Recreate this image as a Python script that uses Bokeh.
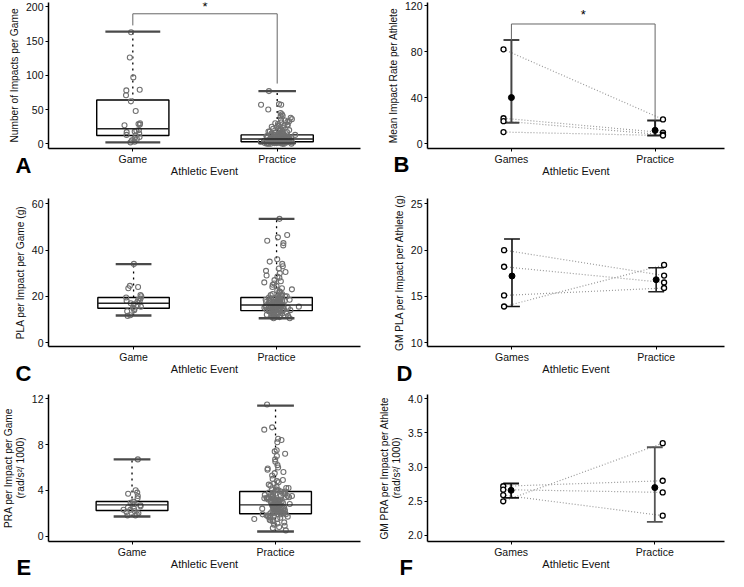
from bokeh.plotting import figure
from bokeh.models import Range1d, FixedTicker, ColumnDataSource, Label, Title, NumeralTickFormatter
from bokeh.transform import jitter, dodge
from bokeh.layouts import gridplot
from bokeh.embed import file_html
from bokeh.resources import INLINE

# ---------------- data ----------------
box_groups = ["Game", "Practice"]
pair_groups = ["Games", "Practice"]
group_pos = [1, 2]
sig_x = [1, 1, 2, 2]

# Panel A: number of impacts per game
a_game = [163, 126, 97, 79, 78, 71, 62, 48, 30, 29, 28, 27, 20, 19, 18, 17, 15, 13,
          12, 10, 8, 7, 5, 3, 2]
a_practice = [77, 58, 57, 57, 50, 45, 43, 41, 40, 38, 36, 35, 34, 33, 32, 31, 30, 29,
              28, 27, 27, 26, 25, 24, 23, 22, 21, 20, 20, 19, 18, 18, 17, 17, 16, 16,
              15, 15, 15, 14, 14, 14, 13, 13, 13, 13, 12, 12, 12, 12, 12, 11, 11, 11,
              11, 11, 10, 10, 10, 10, 10, 10, 9, 9, 9, 9, 9, 9, 8, 8, 8, 8, 8, 8, 8,
              7, 7, 7, 7, 7, 7, 7, 6, 6, 6, 6, 6, 6, 6, 6, 5, 5, 5, 5, 5, 5, 5, 5,
              4, 4, 4, 4, 4, 4, 4, 4, 3, 3, 3, 3, 3, 3, 3, 3, 2, 2, 2, 2, 2, 2, 2, 2,
              1, 1, 1, 1, 1, 1, 1, 0, 0, 0, 0, 0, 0]
a_q1 = [12, 3]
a_med = [22, 7]
a_q3 = [64, 13]
a_lo = [2, 1]
a_hi = [164, 77]
a_cap = [0.19, 0.13]
a_sig_y = [173, 190, 190, 88]
a_star_y = 200

# Panel B: mean impact rate per athlete
b_games = [82, 22, 19.5, 10]
b_practice = [21, 9.5, 7.7, 7]
b_mean = [40, 11.5]
b_lo = [18, 7]
b_hi = [90, 20]
b_sig_y = [90, 104, 104, 20]
b_star_y = 112

# Panel C: PLA per impact per game
c_game = [34, 24.5, 24, 23.5, 20.5, 20, 19.5, 19, 18.5, 18, 18, 17.5, 17, 16.5, 16,
          15.5, 15, 14.5, 14, 13.5, 11.8, 11.5]
c_practice = [53.5, 46.5, 45.5, 44, 43, 42, 36, 35, 34, 33, 32, 31, 30.5, 30, 29, 28.5,
              28, 27, 26.5, 26, 25.5, 25, 24.5, 24, 23.5, 23, 22.5, 22, 22, 21.5, 21, 21,
              20.5, 20.5, 20, 20, 20, 19.5, 19.5, 19.5, 19, 19, 19, 19, 18.5, 18.5, 18.5,
              18.5, 18, 18, 18, 18, 18, 17.5, 17.5, 17.5, 17.5, 17.5, 17, 17, 17, 17, 17,
              17, 16.5, 16.5, 16.5, 16.5, 16.5, 16.5, 16, 16, 16, 16, 16, 16, 16, 15.5,
              15.5, 15.5, 15.5, 15.5, 15.5, 15, 15, 15, 15, 15, 15, 15, 14.5, 14.5, 14.5,
              14.5, 14.5, 14.5, 14, 14, 14, 14, 14, 14, 13.5, 13.5, 13.5, 13.5, 13.5, 13,
              13, 13, 13, 13, 12.5, 12.5, 12.5, 12.5, 12, 12, 12, 12, 11.5, 11.5, 11.5,
              11, 11, 11, 10.5, 10.5]
c_q1 = [14.8, 13.8]
c_med = [17, 16.2]
c_q3 = [19.5, 19.5]
c_lo = [11.7, 10.5]
c_hi = [33.9, 53.5]
c_cap = [0.125, 0.125]

# Panel D: GM PLA per impact per athlete
d_games = [20.0, 18.2, 15.1, 13.9]
d_practice = [17.25, 16.5, 15.9, 18.4]
d_mean = [17.2, 16.8]
d_lo = [13.9, 15.5]
d_hi = [21.2, 18.1]

# Panel E: PRA per impact per game
e_game = [6.7, 4.0, 3.8, 3.7, 3.5, 3.3, 3.0, 2.9, 2.8, 2.8, 2.7, 2.6, 2.5, 2.4, 2.3,
          2.3, 2.2, 2.1, 2.0, 1.9, 1.8, 1.8]
e_practice = [11.5, 9.5, 9.3, 8.5, 8.4, 8.2, 7.5, 7.4, 7.2, 7.0, 6.7, 6.5, 6.2, 6.0, 5.9,
              5.8, 5.6, 5.5, 5.3, 5.0, 4.9, 4.8, 4.7, 4.6, 4.5, 4.4, 4.3, 4.2, 4.2, 4.1,
              4.1, 4.0, 4.0, 3.9, 3.9, 3.8, 3.8, 3.8, 3.7, 3.7, 3.7, 3.6, 3.6, 3.6, 3.5,
              3.5, 3.5, 3.5, 3.4, 3.4, 3.4, 3.4, 3.3, 3.3, 3.3, 3.3, 3.2, 3.2, 3.2, 3.2,
              3.1, 3.1, 3.1, 3.1, 3.0, 3.0, 3.0, 3.0, 3.0, 2.9, 2.9, 2.9, 2.9, 2.8, 2.8,
              2.8, 2.8, 2.8, 2.7, 2.7, 2.7, 2.7, 2.7, 2.6, 2.6, 2.6, 2.6, 2.6, 2.5, 2.5,
              2.5, 2.5, 2.5, 2.4, 2.4, 2.4, 2.4, 2.3, 2.3, 2.3, 2.3, 2.3, 2.2, 2.2, 2.2,
              2.2, 2.1, 2.1, 2.1, 2.1, 2.0, 2.0, 2.0, 2.0, 1.9, 1.9, 1.9, 1.8, 1.8, 1.8,
              1.7, 1.7, 1.7, 1.6, 1.6, 1.5, 1.5, 1.4, 1.4, 1.3, 1.3, 1.2, 1.1, 1.0, 0.9,
              0.8, 0.7, 0.5]
e_q1 = [2.24, 1.95]
e_med = [2.73, 2.73]
e_q3 = [3.02, 3.9]
e_lo = [1.71, 0.4]
e_hi = [6.7, 11.4]
e_cap = [0.128, 0.128]

# Panel F: GM PRA per impact per athlete
f_games = [2.50, 2.59, 2.72, 2.67]
f_practice = [3.35, 2.29, 2.80, 2.63]
f_mean = [2.66, 2.70]
f_lo = [2.55, 2.20]
f_hi = [2.76, 3.29]

FONT = "Liberation Sans"


def make_fig(w, h, borders, xr, yr, yticks, xnames, ylabel, letter, letter_off, letter_sd,
             yfmt=None):
    l, r, t, b = borders
    p = figure(width=w, height=h, x_range=Range1d(*xr), y_range=Range1d(*yr),
               output_backend="svg", toolbar_location=None,
               min_border_left=l, min_border_right=r, min_border_top=t, min_border_bottom=b)
    p.outline_line_color = None
    p.xgrid.visible = False
    p.ygrid.visible = False
    p.xaxis.ticker = FixedTicker(ticks=group_pos)
    p.xaxis.major_label_overrides = {group_pos[0]: xnames[0], group_pos[1]: xnames[1]}
    p.yaxis.ticker = FixedTicker(ticks=yticks)
    if yfmt:
        p.yaxis.formatter = NumeralTickFormatter(format=yfmt)
    p.xaxis.axis_label = "Athletic Event"
    p.yaxis.axis_label = ylabel
    for ax in (p.xaxis[0], p.yaxis[0]):
        ax.axis_line_color = "black"
        ax.axis_line_width = 1.5
        ax.major_tick_line_color = "black"
        ax.major_tick_out = 3
        ax.major_tick_in = 0
        ax.minor_tick_line_color = None
        ax.major_label_text_font = FONT
        ax.major_label_text_font_size = "10.5px"
        ax.major_label_text_color = "#111111"
        ax.axis_label_text_font = FONT
        ax.axis_label_text_font_style = "normal"
        ax.axis_label_text_color = "#111111"
        ax.axis_label_text_line_height = 1.05
    p.xaxis.axis_label_text_font_size = "11px"
    p.yaxis.axis_label_text_font_size = "10.2px"
    p.xaxis.major_label_standoff = 1
    p.xaxis.axis_label_standoff = -3
    p.yaxis.major_label_standoff = 2
    p.yaxis.axis_label_standoff = 3
    p.add_layout(Title(text=letter, align="left", offset=letter_off, standoff=letter_sd,
                       vertical_align="top", text_font=FONT, text_font_size="22px",
                       text_font_style="bold", text_color="black"), "below")
    return p


def draw_box(p, game_vals, prac_vals, q1, med, q3, lo, hi, cap, prac_jit):
    cl = [x - c for x, c in zip(group_pos, cap)]
    cr = [x + c for x, c in zip(group_pos, cap)]
    s = ColumnDataSource(dict(x=group_pos, q1=q1, med=med, q3=q3, lo=lo, hi=hi, cl=cl, cr=cr))
    p.segment(x0="x", y0="lo", x1="x", y1="hi", source=s, line_dash="dotted",
              line_color="black", line_width=1.3)
    p.vbar(x="x", width=0.5, bottom="q1", top="q3", source=s, fill_color="white",
           line_color="black", line_width=1.4)
    sg = ColumnDataSource(dict(x=[group_pos[0]] * len(game_vals), y=game_vals))
    sp = ColumnDataSource(dict(x=[group_pos[1]] * len(prac_vals), y=prac_vals))
    p.scatter(x=jitter("x", width=0.12), y="y", source=sg, size=5, fill_color=None,
              line_color="#707070", line_width=1.1)
    p.scatter(x=jitter("x", width=prac_jit, distribution="normal"), y="y", source=sp, size=5,
              fill_color=None, line_color="#707070", line_width=1.1)
    p.segment(x0=dodge("x", -0.25), y0="med", x1=dodge("x", 0.25), y1="med", source=s,
              line_color="#222222", line_width=1.4)
    p.segment(x0="cl", y0="hi", x1="cr", y1="hi", source=s, line_color="#4a4a4a", line_width=2.4)
    p.segment(x0="cl", y0="lo", x1="cr", y1="lo", source=s, line_color="#4a4a4a", line_width=2.4)


def draw_pair(p, g, pr, mean, lo, hi, bar_colors, bar_w, off=0.055):
    n = len(g)
    s = ColumnDataSource(dict(x0=[group_pos[0]] * n, x1=[group_pos[1]] * n, g=g, pr=pr))
    p.segment(x0=dodge("x0", -off), y0="g", x1=dodge("x1", off), y1="pr", source=s,
              line_dash="1 2", line_color="#9a9a9a", line_width=1.2)
    m = ColumnDataSource(dict(x=group_pos, mean=mean, lo=lo, hi=hi, c=bar_colors))
    p.segment(x0="x", y0="lo", x1="x", y1="hi", source=m, line_color="c", line_width=bar_w)
    p.segment(x0=dodge("x", -0.055), y0="hi", x1=dodge("x", 0.055), y1="hi", source=m,
              line_color="c", line_width=bar_w)
    p.segment(x0=dodge("x", -0.055), y0="lo", x1=dodge("x", 0.055), y1="lo", source=m,
              line_color="c", line_width=bar_w)
    p.scatter(x=dodge("x0", -off), y="g", source=s, size=5, fill_color="white",
              line_color="black", line_width=1.3)
    p.scatter(x=dodge("x1", off), y="pr", source=s, size=5, fill_color="white",
              line_color="black", line_width=1.3)
    p.scatter(x="x", y="mean", source=m, size=6, fill_color="black", line_color="black")


def draw_sig(p, ys, star_y):
    p.line(x=sig_x, y=ys, line_color="#666666", line_width=1)
    p.add_layout(Label(x=1.5, y=star_y, text="*", text_align="center", text_baseline="middle",
                       text_font=FONT, text_font_size="13px", text_color="black"))


LW, RW = 376, 352
RH = 193

pA = make_fig(LW, RH, (38, 16, 2, 45), (0.416, 2.577), (-6.9, 206.5), [0, 50, 100, 150, 200],
              box_groups, "Number of Impacts per Game", "A", -33, -54)
draw_box(pA, a_game, a_practice, a_q1, a_med, a_q3, a_lo, a_hi, a_cap, 0.045)
draw_sig(pA, a_sig_y, a_star_y)

pB = make_fig(RW, RH, (40, 4, 2, 45), (0.416, 2.483), (-4.3, 122.7), [0, 40, 80, 120],
              pair_groups, "Mean Impact Rate per Athlete", "B", -34, -56)
draw_pair(pB, b_games, b_practice, b_mean, b_lo, b_hi, ["#444444", "#222222"], 2)
draw_sig(pB, b_sig_y, b_star_y)

pC = make_fig(LW, RH, (39, 14, 5, 40), (0.405, 2.587), (-1.73, 62.3), [0, 20, 40, 60],
              box_groups, "PLA per Impact per Game (g)", "C", -33, -34)
draw_box(pC, c_game, c_practice, c_q1, c_med, c_q3, c_lo, c_hi, c_cap, 0.045)

pD = make_fig(RW, RH, (41, 4, 5, 40), (0.414, 2.474), (9.57, 25.59), [10, 15, 20, 25],
              pair_groups, "GM PLA per Impact per Athlete (g)", "D", -31, -34)
draw_pair(pD, d_games, d_practice, d_mean, d_lo, d_hi, ["#111111", "#222222"], 1.6)

pE = make_fig(LW, RH, (38, 14, 8, 38), (0.418, 2.592), (-0.47, 12.37), [0, 4, 8, 12],
              box_groups, "PRA per Impact per Game\n(rad/s\u00b2/ 1000)", "E", -32, -36)
draw_box(pE, e_game, e_practice, e_q1, e_med, e_q3, e_lo, e_hi, e_cap, 0.045)

pF = make_fig(RW, RH, (40, 4, 8, 38), (0.418, 2.485), (1.912, 4.061), [2.0, 2.5, 3.0, 3.5, 4.0],
              pair_groups, "GM PRA per Impact per Athlete\n(rad/s\u00b2/ 1000)", "F", -28, -36,
              yfmt="0.0")
draw_pair(pF, f_games, f_practice, f_mean, f_lo, f_hi, ["#111111", "#555555"], 1.8)

grid = gridplot([[pA, pB], [pC, pD], [pE, pF]], toolbar_location=None)

open("out.html", "w").write(file_html(grid, INLINE))
